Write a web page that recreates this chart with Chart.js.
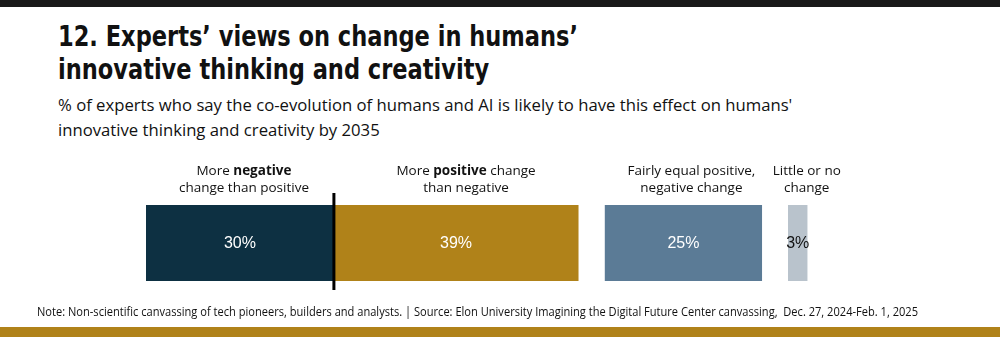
<!DOCTYPE html>
<html><head><meta charset="utf-8">
<script src="https://cdn.jsdelivr.net/npm/chart.js@4/dist/chart.umd.min.js"></script>
<style>
html,body{margin:0;padding:0;width:1000px;height:337px;overflow:hidden;background:#fff;}
#topbar{position:absolute;left:0;top:0;width:1000px;height:7px;background:#1a1a1a;}
#botbar{position:absolute;left:0;top:327px;width:1000px;height:10px;background:#b08219;}
#title{position:absolute;left:58px;top:20px;font-family:"DejaVu Sans Condensed","DejaVu Sans",sans-serif;font-weight:bold;font-size:28px;line-height:33px;color:#111;white-space:nowrap;transform-origin:0 0;}
#subtitle{position:absolute;left:58px;top:92px;font-family:"Open Sans",sans-serif;font-size:16.7px;line-height:25px;color:#111;white-space:nowrap;}
#note{position:absolute;left:37px;top:303px;font-family:"Open Sans",sans-serif;font-size:12.5px;color:#111;white-space:nowrap;transform-origin:0 0;}
#wrap{position:absolute;left:0;top:0;width:1000px;height:337px;}
</style></head>
<body>
<div id="topbar"></div>
<div id="title"><span id="t1">12. Experts’ views on change in humans’</span><br>innovative thinking and creativity</div>
<div id="subtitle">% of experts who say the co-evolution of humans and AI is likely to have this effect on humans'<br>innovative thinking and creativity by 2035</div>
<div id="wrap"><canvas id="c"></canvas></div>
<div id="note">Note: Non-scientific canvassing of tech pioneers, builders and analysts. | Source: Elon University Imagining the Digital Future Center canvassing,&nbsp; Dec. 27, 2024-Feb. 1, 2025</div>
<div id="botbar"></div>
<script>
const categories = ["More **negative**\nchange than positive", "More **positive** change\nthan negative", "Fairly equal positive,\nnegative change", "Little or no\nchange"];
const values = [30, 39, 25, 3];
const valueLabels = ["30%", "39%", "25%", "3%"];

// layout / style constants
const gapsBefore = [0, 0, 4.3, 4.25];
const colors = ["#0d3042", "#b08219", "#5b7b96", "#b9c3cc"];
const valueColors = ["#ffffff", "#ffffff", "#ffffff", "#111111"];
const labelOffsets = [4, 10, 8, 9];

// fit condensed text widths
(function(){
  const t1 = document.getElementById('t1');
  const title = document.getElementById('title');
  title.style.transform = 'scaleX(' + (520 / t1.getBoundingClientRect().width) + ')';
  const note = document.getElementById('note');
  note.style.transform = 'scaleX(' + (881 / note.getBoundingClientRect().width) + ')';
})();

const ranges = [];
let pos = 0;
values.forEach((v, i) => { pos += gapsBefore[i]; ranges.push([pos, pos + v]); pos += v; });

const datasets = values.map((v, i) => ({
  label: categories[i],
  data: [ranges[i]],
  backgroundColor: colors[i],
  borderWidth: 0,
  grouped: false,
  barPercentage: 1,
  categoryPercentage: 1
}));

const labelPlugin = {
  id: 'labels',
  afterDatasetsDraw(chart) {
    const ctx = chart.ctx;
    const xs = chart.scales.x;
    const area = chart.chartArea;
    const dx = xs.getPixelForValue(ranges[0][1]);
    ctx.save();
    ctx.strokeStyle = '#000';
    ctx.lineWidth = 3;
    ctx.beginPath();
    ctx.moveTo(dx, area.top - 12);
    ctx.lineTo(dx, area.bottom + 9);
    ctx.stroke();
    chart.data.datasets.forEach((ds, i) => {
      const el = chart.getDatasetMeta(i).data[0];
      const cx = (el.x + el.base) / 2;
      ctx.fillStyle = valueColors[i];
      ctx.font = '16px "Liberation Sans", Arial, sans-serif';
      ctx.textAlign = 'center';
      ctx.textBaseline = 'middle';
      ctx.fillText(valueLabels[i], cx, el.y + 1);
      const lines = categories[i].split('\n');
      const lx = cx + labelOffsets[i];
      ctx.fillStyle = '#111';
      ctx.textBaseline = 'alphabetic';
      ctx.textAlign = 'left';
      lines.forEach((line, li) => {
        const parts = line.split('**');
        const fonts = parts.map((p, k) => (k % 2 ? 'bold ' : '') + '13.5px "Open Sans", sans-serif');
        let total = 0;
        const widths = parts.map((p, k) => { ctx.font = fonts[k]; const w = ctx.measureText(p).width; total += w; return w; });
        let x = lx - total / 2;
        const y = area.top - 30 + li * 17;
        parts.forEach((p, k) => { ctx.font = fonts[k]; ctx.fillText(p, x, y); x += widths[k]; });
      });
    });
    ctx.restore();
  }
};

new Chart(document.getElementById('c'), {
  type: 'bar',
  data: { labels: [''], datasets },
  options: {
    indexAxis: 'y',
    responsive: true,
    maintainAspectRatio: false,
    animation: false,
    layout: { padding: { left: 146, right: 165, top: 205, bottom: 56 } },
    scales: {
      x: { display: false, min: 0, max: 110 },
      y: { display: false }
    },
    plugins: { legend: { display: false }, tooltip: { enabled: false }, title: { display: false } }
  },
  plugins: [labelPlugin]
});
</script>
</body></html>
